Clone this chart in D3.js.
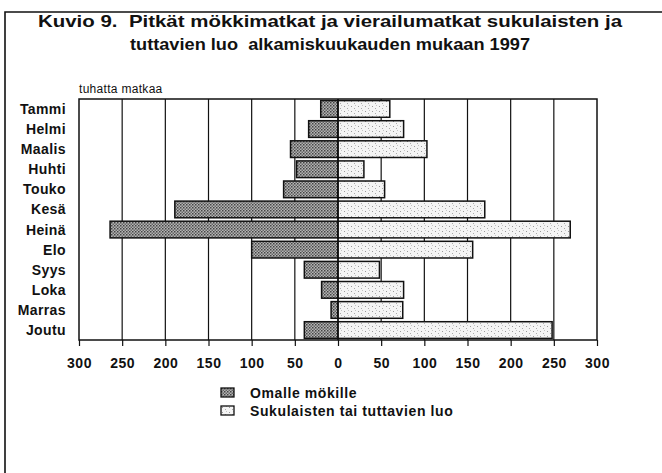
<!DOCTYPE html>
<html>
<head>
<meta charset="utf-8">
<script src="https://cdn.jsdelivr.net/npm/d3@7"></script>
<style>
  body { margin: 0; background: #fff; }
  svg { display: block; font-family: "Liberation Sans", Arial, sans-serif; }
  .title { white-space: pre; }
</style>
</head>
<body>
<svg width="662" height="473"></svg>
<script>
// data
var months = ["Tammi", "Helmi", "Maalis", "Huhti", "Touko", "Kesä", "Heinä", "Elo", "Syys", "Loka", "Marras", "Joutu"];
var omalleMokille = [20, 34, 55, 48, 63, 189, 264, 100, 39, 19, 8, 39];
var sukulaisten = [60, 76, 103, 30, 54, 170, 269, 156, 48, 76, 75, 248];
var tickValues = [-300, -250, -200, -150, -100, -50, 0, 50, 100, 150, 200, 250, 300];
var seriesNames = ["Omalle mökille", "Sukulaisten tai tuttavien luo"];

var svg = d3.select("svg");

// textures
var defs = svg.append("defs");
var dark = defs.append("pattern")
    .attr("id", "dark").attr("width", 3).attr("height", 3)
    .attr("patternUnits", "userSpaceOnUse");
dark.append("rect").attr("width", 3).attr("height", 3).attr("fill", "#b5b5b5");
dark.append("rect").attr("width", 1.5).attr("height", 1.5).attr("fill", "#444");
dark.append("rect").attr("x", 1.5).attr("y", 1.5).attr("width", 1.5).attr("height", 1.5).attr("fill", "#666");

var light = defs.append("pattern")
    .attr("id", "light").attr("width", 7).attr("height", 5)
    .attr("patternUnits", "userSpaceOnUse");
light.append("rect").attr("width", 7).attr("height", 5).attr("fill", "#f4f4f4");
light.append("rect").attr("x", 1).attr("y", 1).attr("width", 1).attr("height", 1).attr("fill", "#999");
light.append("rect").attr("x", 4).attr("y", 3).attr("width", 1).attr("height", 1).attr("fill", "#aaa");
light.append("rect").attr("x", 5).attr("y", 0).attr("width", 1).attr("height", 1).attr("fill", "#c4c4c4");

// outer frame (top and left only)
svg.append("path")
    .attr("d", "M5,473V12H662")
    .attr("fill", "none").attr("stroke", "#111").attr("stroke-width", 1.6);

// title
var title = svg.append("text")
    .attr("class", "title")
    .attr("text-anchor", "middle")
    .attr("font-size", 17).attr("font-weight", "bold").attr("fill", "#111");
title.append("tspan").attr("x", 330).attr("y", 27)
    .attr("textLength", 584).attr("lengthAdjust", "spacingAndGlyphs")
    .text("Kuvio 9.  Pitkät mökkimatkat ja vierailumatkat sukulaisten ja");
title.append("tspan").attr("x", 330).attr("y", 50)
    .attr("textLength", 400).attr("lengthAdjust", "spacingAndGlyphs")
    .text("tuttavien luo  alkamiskuukauden mukaan 1997");

// scales
var margin = { left: 79, right: 597, top: 99, bottom: 340 };
var x = d3.scaleLinear().domain([-300, 300]).range([margin.left, margin.right]);
var y = d3.scaleBand().domain(months).range([margin.top, margin.bottom]).paddingInner(0.17).paddingOuter(0.08);

svg.append("text")
    .attr("x", margin.left).attr("y", 93)
    .attr("font-size", 12).attr("letter-spacing", 0.3).attr("fill", "#111")
    .text("tuhatta matkaa");

// plot box + grid
svg.append("rect")
    .attr("x", margin.left).attr("y", margin.top)
    .attr("width", margin.right - margin.left).attr("height", margin.bottom - margin.top)
    .attr("fill", "#fff").attr("stroke", "#111").attr("stroke-width", 1.5);

svg.append("g").selectAll("line")
    .data(tickValues.filter(function (d) { return Math.abs(d) < 300; }))
    .enter().append("line")
    .attr("x1", function (d) { return x(d); }).attr("x2", function (d) { return x(d); })
    .attr("y1", margin.top).attr("y2", margin.bottom)
    .attr("stroke", "#111").attr("stroke-width", 1.2);

// axis
var axis = d3.axisBottom(x)
    .tickValues(tickValues)
    .tickSize(6)
    .tickFormat(function (d) { return Math.abs(d); });
var ag = svg.append("g")
    .attr("transform", "translate(0," + margin.bottom + ")")
    .call(axis);
ag.select(".domain").remove();
ag.selectAll(".tick line").attr("stroke", "#111").attr("stroke-width", 1.2);
ag.selectAll(".tick text")
    .attr("y", 18)
    .attr("font-size", 14).attr("font-weight", "bold").attr("fill", "#111")
    .attr("letter-spacing", 0.5)
    .attr("font-family", "Liberation Sans, Arial, sans-serif");

// bars
var g = svg.append("g");
g.selectAll(".left")
    .data(months)
    .enter().append("rect")
    .attr("class", "left")
    .attr("x", function (d, i) { return x(-omalleMokille[i]); })
    .attr("y", function (d) { return y(d); })
    .attr("width", function (d, i) { return x(0) - x(-omalleMokille[i]); })
    .attr("height", y.bandwidth())
    .attr("fill", "url(#dark)").attr("stroke", "#111").attr("stroke-width", 1.5);

g.selectAll(".right")
    .data(months)
    .enter().append("rect")
    .attr("class", "right")
    .attr("x", x(0))
    .attr("y", function (d) { return y(d); })
    .attr("width", function (d, i) { return x(sukulaisten[i]) - x(0); })
    .attr("height", y.bandwidth())
    .attr("fill", "url(#light)").attr("stroke", "#111").attr("stroke-width", 1.5);

// zero line
svg.append("line")
    .attr("x1", x(0)).attr("x2", x(0))
    .attr("y1", margin.top).attr("y2", margin.bottom)
    .attr("stroke", "#111").attr("stroke-width", 1.5);

// month labels
svg.append("g").selectAll("text")
    .data(months)
    .enter().append("text")
    .attr("x", 66)
    .attr("y", function (d) { return y(d) + y.bandwidth() / 2; })
    .attr("dy", "0.36em")
    .attr("text-anchor", "end")
    .attr("font-size", 14).attr("font-weight", "bold").attr("fill", "#111")
    .attr("letter-spacing", 0.4)
    .text(function (d) { return d; });

// legend
var legend = svg.append("g").selectAll("g")
    .data(seriesNames)
    .enter().append("g")
    .attr("transform", function (d, i) { return "translate(221," + (388 + i * 18) + ")"; });
legend.append("rect")
    .attr("width", 13).attr("height", 9)
    .attr("fill", function (d, i) { return i == 0 ? "url(#dark)" : "url(#light)"; })
    .attr("stroke", "#111").attr("stroke-width", 1.3);
legend.append("text")
    .attr("x", 29).attr("y", 10)
    .attr("font-size", 14).attr("font-weight", "bold").attr("fill", "#111")
    .attr("letter-spacing", 0.6)
    .text(function (d) { return d; });
</script>
</body>
</html>
